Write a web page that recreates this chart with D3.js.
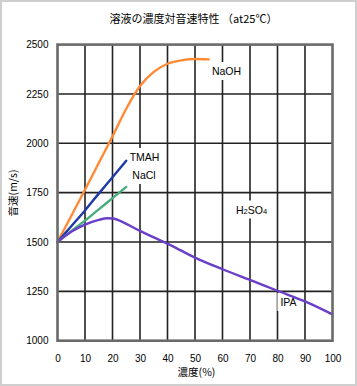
<!DOCTYPE html>
<html><head><meta charset="utf-8">
<script src="https://cdn.jsdelivr.net/npm/d3@7"></script>
<style>
html,body{margin:0;padding:0;background:#fff;}
svg{display:block;}
</style>
</head><body>
<svg id="c" width="357" height="386"></svg>
<script>
const title = "溶液の濃度対音速特性 （at25℃）";
const xLabel = "濃度(%)";
const yLabel = "音速(m/s)";
const xTicks = [0,10,20,30,40,50,60,70,80,90,100];
const yTicks = [1000,1250,1500,1750,2000,2250,2500];

const naohX = [0,5,10,15,20,25,30,35,40,45,50,55];
const naohY = [1500,1632,1765,1900,2035,2175,2290,2362,2403,2420,2427,2425];
const tmahX = [0,5,10,15,20,25];
const tmahY = [1500,1580,1660,1745,1828,1912];
const naclX = [0,5,10,15,20,25];
const naclY = [1500,1555,1608,1665,1722,1779];
const ipaX = [0,5,10,15,18,20,25,30,35,40,45,50,60,70,80,90,100];
const ipaY = [1500,1552,1588,1612,1620,1619,1592,1556,1523,1492,1456,1421,1362,1308,1253,1199,1133];

const seriesNames = ["NaOH","TMAH","NaCl","IPA"];
const seriesColors = ["#ff8a36","#1e3aa6","#48ad7e","#6a3ec8"];

const W = 357, H = 386;
const m = {l:57.5, r:24.5, t:44.6, b:45.3};
const svg = d3.select("#c");

svg.append("rect").attr("x",1).attr("y",1).attr("width",W-2).attr("height",H-2)
  .attr("fill","#fff").attr("stroke","#cfcfcf").attr("stroke-width",2);

const x = d3.scaleLinear().domain([0,100]).range([m.l, W-m.r]);
const y = d3.scaleLinear().domain([1000,2500]).range([H-m.b, m.t]);

const latin = "'Liberation Sans', Arial, sans-serif";
const jp = "'Noto Sans CJK JP', sans-serif";

// grid
const g = svg.append("g");
g.selectAll("line.v").data(xTicks.slice(1,-1)).join("line")
  .attr("x1",d=>x(d)).attr("x2",d=>x(d)).attr("y1",m.t).attr("y2",H-m.b)
  .attr("stroke","#222").attr("stroke-width",1.6);
g.selectAll("line.h").data(yTicks.slice(1,-1)).join("line")
  .attr("y1",d=>y(d)).attr("y2",d=>y(d)).attr("x1",m.l).attr("x2",W-m.r)
  .attr("stroke","#222").attr("stroke-width",1.6);

// axes tick labels via d3 axes
const xAxis = svg.append("g").attr("transform",`translate(0,${H-m.b})`)
  .call(d3.axisBottom(x).tickValues(xTicks).tickSize(0).tickPadding(14).tickFormat(d3.format("d")));
xAxis.select(".domain").remove();
xAxis.selectAll("text").attr("font-family",latin).attr("font-size",10).attr("fill","#000");

const yAxis = svg.append("g").attr("transform",`translate(${m.l},0)`)
  .call(d3.axisLeft(y).tickValues(yTicks).tickSize(0).tickPadding(9).tickFormat(d3.format("d")));
yAxis.select(".domain").remove();
yAxis.selectAll("text").attr("font-family",latin).attr("font-size",10).attr("fill","#000");

// labels with white box
function label(txt, cx, by, sub) {
  const t = svg.append("text").attr("x",cx).attr("y",by).attr("text-anchor","middle")
    .attr("font-family",latin).attr("font-size",10.5).attr("fill","#000");
  if (sub) {
    sub.forEach(p => {
      const ts = t.append("tspan").text(p[0]);
      if (p[1]) ts.attr("font-size",7.5);
    });
  } else t.text(txt);
  const bb = t.node().getBBox();
  svg.insert("rect", () => t.node()).attr("x",bb.x-3).attr("y",bb.y-3)
    .attr("width",bb.width+6).attr("height",bb.height+6).attr("fill","#fff");
}

// series
const line = d3.line().x(d=>x(d[0])).y(d=>y(d[1])).curve(d3.curveMonotoneX);
const data = [
  d3.zip(naohX,naohY), d3.zip(tmahX,tmahY), d3.zip(naclX,naclY), d3.zip(ipaX,ipaY)
];

label("NaOH", 226.5, 75);
label("TMAH", 144.5, 161);
label("NaCl", 144, 179);
label("", 251.5, 213.5, [["H",0],["2",1],["SO",0],["4",1]]);
label("IPA", 288.5, 306);

svg.append("g").selectAll("path").data(data).join("path")
  .attr("d",line).attr("fill","none")
  .attr("stroke",(d,i)=>seriesColors[i]).attr("stroke-width",2.4)
  .attr("stroke-linecap","round");

// frame
svg.append("rect").attr("x",m.l).attr("y",m.t).attr("width",W-m.l-m.r).attr("height",H-m.t-m.b)
  .attr("fill","none").attr("stroke","#6a6a6a").attr("stroke-width",2.6);

// title
svg.append("text").attr("x",193.5).attr("y",22.5).attr("text-anchor","middle")
  .attr("font-family",jp).attr("font-size",11).attr("fill","#000").text(title);

svg.append("text").attr("x",196.5).attr("y",375.5).attr("text-anchor","middle")
  .attr("font-family",jp).attr("font-size",10.5).attr("fill","#000").text(xLabel);

svg.append("text").attr("transform","translate(17,193) rotate(-90)").attr("text-anchor","middle")
  .attr("font-family",jp).attr("font-size",10.5).attr("fill","#000").text(yLabel);
</script>
</body></html>
